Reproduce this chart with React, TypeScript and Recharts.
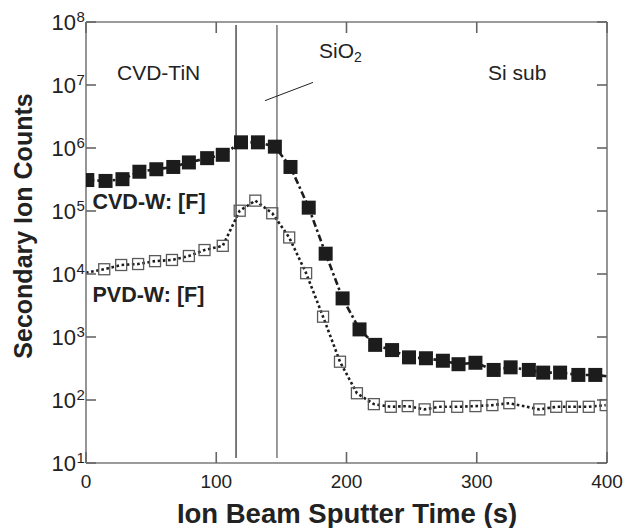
import React from 'react';
import { LineChart, Line, XAxis, YAxis, ReferenceLine } from 'recharts';

// ---- data ----
const cvdTime = [1, 15, 28, 41, 54, 67, 79, 93, 105, 119, 132, 145, 157, 171, 184, 197, 210, 222, 235, 248, 261, 274, 286, 299, 313, 326, 340, 351, 364, 378, 391, 400];
const cvdCounts = [3.1e5, 3.0e5, 3.2e5, 4.2e5, 4.6e5, 5.0e5, 5.9e5, 6.9e5, 7.8e5, 1.23e6, 1.23e6, 1.05e6, 5.0e5, 1.13e5, 2.1e4, 4.1e3, 1.32e3, 750, 620, 475, 460, 420, 370, 390, 300, 330, 300, 272, 272, 250, 250, 238];

const pvdTime = [0, 14, 27, 40, 53, 66, 79, 91, 105, 118, 130, 143, 156, 169, 182, 195, 208, 221, 234, 247, 260, 271, 285, 299, 312, 325, 348, 361, 373, 386, 399];
const pvdCounts = [1.05e4, 1.19e4, 1.39e4, 1.44e4, 1.6e4, 1.67e4, 1.93e4, 2.4e4, 2.8e4, 1.01e5, 1.46e5, 9.2e4, 3.8e4, 1.03e4, 2.1e3, 405, 128, 86, 78, 80, 71, 78, 78, 80, 83, 89, 71, 78, 78, 78, 83];

const xTicks = [0, 100, 200, 300, 400];
const yTicks = [1e1, 1e2, 1e3, 1e4, 1e5, 1e6, 1e7, 1e8];
const xDomain = [0, 400];
const yDomain = [1e1, 1e8];
const layerBoundaries = [115.2, 146.6];
const pointer = [{ x: 137.4, y: 5.64e6 }, { x: 174.3, y: 1.1e7 }];

const cvdData = cvdTime.map((t, i) => ({ t, v: cvdCounts[i] }));
const pvdData = pvdTime.map((t, i) => ({ t, v: pvdCounts[i] }));

const FONT = '"Liberation Sans", Arial, Helvetica, sans-serif';
const AXIS = '#7a7a7a';
const TICKC = '#666';
const INK = '#222';
const TICK_LEN = 10;

const hasMarker = (t: number) => t > xDomain[0] && t < xDomain[1];

const FilledSquare = (props: any) => {
  const { cx, cy, index, payload } = props;
  if (cx == null || cy == null || !hasMarker(payload.t)) return <g key={`f-${index}`} />;
  return <rect key={`f-${index}`} x={cx - 7} y={cy - 7} width={14} height={14} fill="#1c1c1c" />;
};

const OpenSquare = (props: any) => {
  const { cx, cy, index, payload } = props;
  if (cx == null || cy == null || !hasMarker(payload.t)) return <g key={`o-${index}`} />;
  return (
    <rect key={`o-${index}`} x={cx - 5.5} y={cy - 5.5} width={11} height={11} fill="none" stroke="#5a5a5a" strokeWidth={1.3} />
  );
};

// tick components: recharts hands the position at the axis line (tickSize 0, tickMargin 0)
const BottomTick = (props: any) => {
  const { x, y, payload } = props;
  return (
    <g>
      <path d={`M${x},${y}V${y - TICK_LEN - 1}`} stroke={TICKC} strokeWidth={1.6} fill="none" />
      <text x={x} y={y + 25} textAnchor="middle" fontSize={19} fontFamily={FONT} fill={INK}>
        {payload.value}
      </text>
    </g>
  );
};

const TopTick = (props: any) => {
  const { x, y } = props;
  return <path d={`M${x},${y}V${y + TICK_LEN + 1}`} stroke={TICKC} strokeWidth={1.6} fill="none" />;
};

const LeftTick = (props: any) => {
  const { x, y, payload } = props;
  const exp = Math.round(Math.log10(payload.value));
  return (
    <g>
      <path d={`M${x},${y}H${x + TICK_LEN}`} stroke={TICKC} strokeWidth={1.6} fill="none" />
      <text x={x - 10} y={y + 8} textAnchor="end" fontSize={22} fontFamily={FONT} fill={INK}>
        10
      </text>
      <text x={x - 9.5} y={y} textAnchor="start" fontSize={15} fontFamily={FONT} fill={INK}>
        {exp}
      </text>
    </g>
  );
};

const RightTick = (props: any) => {
  const { x, y } = props;
  return <path d={`M${x},${y}H${x - TICK_LEN}`} stroke={TICKC} strokeWidth={1.6} fill="none" />;
};

const shortLine = (color: string, w: number) => (p: any) => {
  const top = Math.min(p.y1, p.y2);
  const bot = Math.max(p.y1, p.y2);
  return <line x1={p.x1} x2={p.x2} y1={top + 3} y2={bot - 5} stroke={color} strokeWidth={w} />;
};

const axisLine = { stroke: AXIS, strokeWidth: 1.6 };

export default function App() {
  return (
    <div style={{ position: 'absolute', left: 0, top: 0, width: 627, height: 528, background: '#fff' }}>
      <LineChart width={627} height={528} margin={{ top: 21, right: 19, bottom: 64, left: 85 }}>
        <XAxis
          dataKey="t"
          type="number"
          domain={xDomain}
          ticks={xTicks}
          interval={0}
          height={1}
          tickSize={0}
          tickMargin={0}
          tick={<BottomTick />}
          axisLine={axisLine}
          tickLine={false}
          allowDataOverflow
        />
        <XAxis
          xAxisId="top"
          orientation="top"
          dataKey="t"
          type="number"
          domain={xDomain}
          ticks={xTicks}
          interval={0}
          height={1}
          tickSize={0}
          tickMargin={0}
          tick={<TopTick />}
          axisLine={axisLine}
          tickLine={false}
          allowDataOverflow
        />
        <YAxis
          type="number"
          scale="log"
          domain={yDomain}
          ticks={yTicks}
          interval={0}
          width={1}
          tickSize={0}
          tickMargin={0}
          tick={<LeftTick />}
          axisLine={axisLine}
          tickLine={false}
          allowDataOverflow
        />
        <YAxis
          yAxisId="r"
          orientation="right"
          type="number"
          scale="log"
          domain={yDomain}
          ticks={yTicks}
          interval={0}
          width={1}
          tickSize={0}
          tickMargin={0}
          tick={<RightTick />}
          axisLine={axisLine}
          tickLine={false}
          allowDataOverflow
        />
        <ReferenceLine x={layerBoundaries[0]} stroke="#222" shape={shortLine('#222', 1.2)} />
        <ReferenceLine x={layerBoundaries[1]} stroke="#888" shape={shortLine('#888', 1.7)} />
        <ReferenceLine segment={pointer} stroke="#222" strokeWidth={1} />
        <Line
          data={pvdData}
          dataKey="v"
          type="linear"
          stroke="#1c1c1c"
          strokeWidth={2.6}
          strokeDasharray="2.6 2.6"
          dot={OpenSquare}
          activeDot={false}
          isAnimationActive={false}
        />
        <Line
          data={cvdData}
          dataKey="v"
          type="linear"
          stroke="#1c1c1c"
          strokeWidth={2.6}
          strokeDasharray="7 3 2.5 3"
          dot={FilledSquare}
          activeDot={false}
          isAnimationActive={false}
        />
      </LineChart>
      <svg
        width={627}
        height={528}
        style={{ position: 'absolute', left: 0, top: 0, pointerEvents: 'none' }}
      >
        <g fontFamily={FONT} fill={INK}>
          <text transform="translate(32,226) rotate(-90)" textAnchor="middle" fontSize={25} fontWeight="bold">
            Secondary Ion Counts
          </text>
          <text x={347} y={523} textAnchor="middle" fontSize={27.5} fontWeight="bold">
            Ion Beam Sputter Time (s)
          </text>
          <text x={117} y={80} fontSize={21}>CVD-TiN</text>
          <text x={319} y={58} fontSize={21}>
            SiO<tspan fontSize={14} dy={4}>2</tspan>
          </text>
          <text x={488} y={80} fontSize={21}>Si sub</text>
          <text x={92.5} y={209} fontSize={21.5} fontWeight="bold">CVD-W: [F]</text>
          <text x={92.5} y={302} fontSize={21.5} fontWeight="bold">PVD-W: [F]</text>
        </g>
      </svg>
    </div>
  );
}
